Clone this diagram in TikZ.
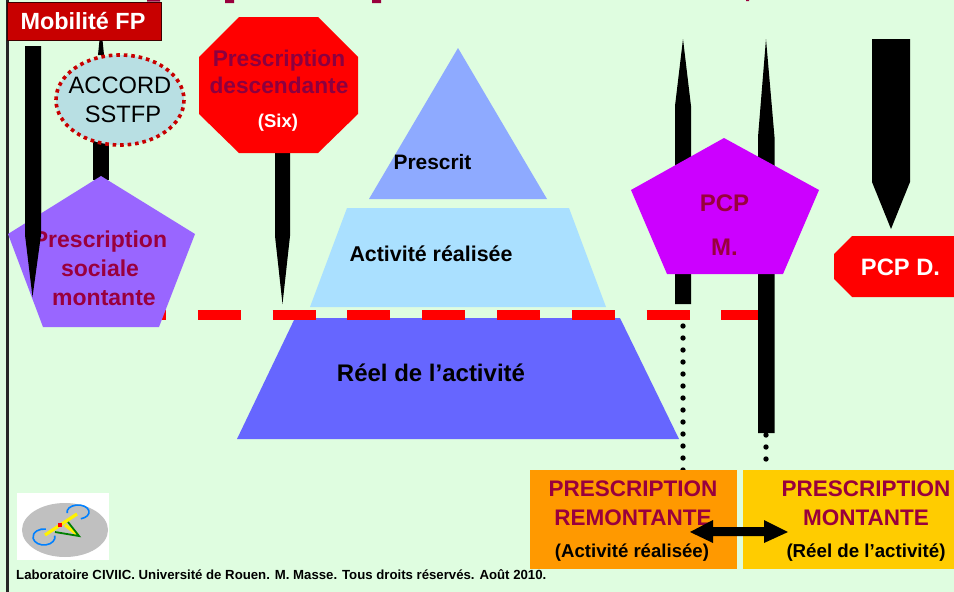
\documentclass[tikz,border=0pt]{standalone}
\usepackage{fontspec}
\setmainfont{Liberation Sans}
\definecolor{bgc}{HTML}{DFFDE0}
\definecolor{wine}{HTML}{99003D}
\definecolor{darkred}{HTML}{C80000}
\definecolor{ringblue}{RGB}{0,128,255}
\tikzset{
  x=1pt,y=-1pt,
  blk/.style={fill=black,draw=none},
  lbl/.style={font=\bfseries\fontsize{20}{24}\selectfont,align=center,inner sep=0pt},
  wlbl/.style={lbl,text=wine},
  klbl/.style={lbl,text=black},
  wtlbl/.style={lbl,text=white},
  dots/.style={line width=5.4pt,line cap=round,dash pattern=on 0pt off 12pt},
  redash/.style={line width=10.5pt,red,dash pattern=on 43pt off 31.8pt},
}
\begin{document}
\begin{tikzpicture}
\useasboundingbox (0,0) rectangle (954,592);
\fill[bgc] (0,0) rectangle (954,592);
\fill[black!85] (6,0) rectangle (9,592);
% clipped title remnants
\fill[wine] (147,0) rectangle (160,1.5) (225,0) rectangle (234,3) (372,0) rectangle (381,3) (746,0) rectangle (749,1);
% dashed line
\coordinate (dashA) at (123,315);
\coordinate (dashB) at (759,315);
% pyramid
\fill[fill={rgb,255:red,142;green,170;blue,255}] (458,48) -- (547,199) -- (369,199) -- cycle;
\fill[fill={rgb,255:red,170;green,224;blue,255}] (347,208) -- (569,208) -- (606,307) -- (310,307) -- cycle;
\fill[fill={rgb,255:red,102;green,102;blue,255}] (295,318) -- (620,318) -- (679,439) -- (237,439) -- cycle;
\draw[redash] (dashA) -- (dashB);
% pointers
\fill[blk] (25,46) -- (41,46) -- (41,235) -- (32.5,297) -- (25,235) -- cycle;
\fill[blk] (93,180) -- (109,180) -- (109,100) -- (93,100) -- cycle;
\fill[blk] (98,55) -- (99.5,40) -- (102.5,40) -- (104,55) -- cycle;
\fill[blk] (275,150) -- (290,150) -- (290,236) -- (282.5,304) -- (275,236) -- cycle;
\fill[blk] (675,304) -- (691,304) -- (691,106) -- (683,39) -- (675,106) -- cycle;
\fill[blk] (758,433) -- (774.5,433) -- (774.5,137) -- (766,39) -- (758,137) -- cycle;
\fill[blk] (872,39) -- (910,39) -- (910,182) -- (891,229) -- (872,182) -- cycle;
% dotted
\coordinate (dotA) at (683,326);
\coordinate (dotAe) at (683,470);
\coordinate (dotB) at (766,435);
\coordinate (dotBe) at (766,470);
\draw[dots] (dotA) -- (dotAe);
\draw[dots] (dotB) -- (dotBe);
% ellipse
\fill[fill={rgb,255:red,184;green,223;blue,227}] (120,100) ellipse [x radius=64,y radius=45];
\draw[darkred,line width=3.6pt,dash pattern=on 3.6pt off 3.9pt] (120,100) ellipse [x radius=64,y radius=45];
\node[lbl,font=\fontsize{23.7}{29}\selectfont] (accordt) at (120,100) {ACCORD\\\hspace*{6pt}SSTFP};
% octagon
\fill[red] (239,17) -- (318,17) -- (358,57) -- (358,114) -- (318,153) -- (239,153) -- (199,114) -- (199,57) -- cycle;
\node[wlbl,font=\bfseries\fontsize{22.7}{26.5}\selectfont,text={rgb,255:red,140;green,0;blue,64}] (presc) at (279,72) {Prescription\\descendante};
\node[wtlbl,font=\bfseries\fontsize{18.5}{20}\selectfont] (six) at (278,122.5) {(Six)};
% pentagon left
\fill[fill={rgb,255:red,153;green,102;blue,255}] (101,176) -- (195,234) -- (159,327) -- (43,327) -- (8,234) -- cycle;
\node[wlbl,font=\bfseries\fontsize{23}{29}\selectfont] (soc) at (100,268.5) {Prescription\\sociale\\\hspace*{8pt}montante};
\fill[blk] (25,150) -- (41,150) -- (41,235) -- (32.5,297) -- (25,235) -- cycle;
% pentagon right
\fill[fill={rgb,255:red,204;green,0;blue,255}] (724,138) -- (819,190) -- (783,274) -- (667,274) -- (631,190) -- cycle;
\node[wlbl,font=\bfseries\fontsize{24}{26}\selectfont] (pcpm1) at (724.5,203) {PCP};
\node[wlbl,font=\bfseries\fontsize{24}{26}\selectfont] (pcpm2) at (724.5,247) {M.};
% PCP D
\fill[red] (852,236) -- (954,236) -- (954,297) -- (852,297) -- (834,279) -- (834,254) -- cycle;
\node[wtlbl,font=\bfseries\fontsize{23.7}{25}\selectfont] (pcpd) at (900.5,267) {PCP D.};
% Mobilite
\node[draw=black!70!darkred,fill=darkred,line width=0.8pt,minimum width=154pt,minimum height=38pt,inner sep=0pt,text=white,font=\bfseries\fontsize{23.4}{25}\selectfont] (mob) at (84,21) {\hspace*{-2pt}Mobilité FP};
% pyramid labels
\node[klbl,font=\bfseries\fontsize{20.9}{22}\selectfont] (prescrit) at (432.5,162) {Prescrit};
\node[klbl,font=\bfseries\fontsize{21.4}{22}\selectfont] (real) at (431,254) {Activité réalisée};
\node[klbl,font=\bfseries\fontsize{24}{24}\selectfont] (reel) at (431,373) {Réel de l’activité};
% boxes
\fill[fill={rgb,255:red,255;green,153;blue,0}] (530,470) rectangle (737,569);
\fill[fill={rgb,255:red,255;green,204;blue,0}] (743,470) rectangle (954,569);
\node[wlbl,font=\bfseries\fontsize{22.5}{28.5}\selectfont] (bA) at (633,503) {PRESCRIPTION\\REMONTANTE};
\node[klbl,font=\bfseries\fontsize{18.6}{20}\selectfont] (bA2) at (632,553) {(Activité réalisée)};
\node[wlbl,font=\bfseries\fontsize{22.5}{28.5}\selectfont] (bB) at (866,503) {PRESCRIPTION\\MONTANTE};
\node[klbl,font=\bfseries\fontsize{18.7}{20}\selectfont] (bB2) at (866,553) {(Réel de l’activité)};
\fill[blk] (690,532) -- (713,520) -- (713,527) -- (764,527) -- (764,520) -- (788,532) -- (764,543) -- (764,536) -- (713,536) -- (713,543) -- cycle;
% logo
\fill[white] (17,493) rectangle (109,560);
\fill[fill={rgb,255:red,192;green,192;blue,192}] (65,530) ellipse [x radius=43,y radius=27];
\draw[draw=ringblue,line width=1.6pt] (54.8,535.6) arc[start angle=-10,end angle=280,x radius=11,y radius=8];
\draw[draw=ringblue,line width=1.6pt] (67.2,513.2) arc[start angle=170,end angle=435,x radius=11,y radius=7];
\draw[yellow,line width=3.2pt] (45,535) -- (77,514);
\draw[yellow,line width=3.2pt] (65,525) -- (78,535);
\draw[green!50!black,line width=1.8pt] (55,532) -- (79,536) -- (68,522);
\fill[red] (58,523) rectangle (62,527);
% footer
\node[anchor=west,klbl,font=\bfseries\fontsize{13.2}{15}\selectfont] (foot) at (16,574.5) {Laboratoire CIVIIC. Université de Rouen. M. Masse. Tous droits réservés. Août 2010.};
\end{tikzpicture}
\end{document}
